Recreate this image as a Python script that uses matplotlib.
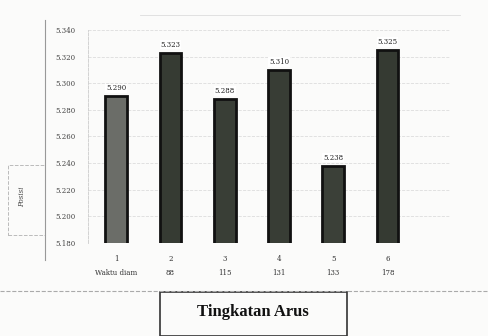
import matplotlib.pyplot as plt
from matplotlib.patches import Rectangle
from matplotlib.lines import Line2D

# values (estimated)
levels = [1, 2, 3, 4, 5, 6]
currents = ["Waktu diam", "88", "115", "131", "133", "178"]
positions = [5.290, 5.323, 5.288, 5.310, 5.238, 5.325]
y_ticks = [5.180, 5.200, 5.220, 5.240, 5.260, 5.280, 5.300, 5.320, 5.340]
bar_colors = ["#6b6d68", "#363b33", "#393e36", "#383d35", "#3b4038", "#353a32"]

fig = plt.figure(figsize=(4.89, 3.36), dpi=100)
fig.patch.set_facecolor("#fbfbfa")
ax = fig.add_axes([0.18, 0.277, 0.74, 0.634])
ax.set_facecolor("#fbfbfa")

ax.bar(levels, positions, width=0.40, color=bar_colors, edgecolor="#111111",
       linewidth=2.0, zorder=3)
for x, v in zip(levels, positions):
    ax.text(x, v + 0.003, f"{v:.3f}", ha="center", va="bottom",
            fontsize=5, color="#222222", family="DejaVu Serif",
            bbox=dict(facecolor="white", edgecolor="none", pad=0.5), zorder=4)

ax.set_ylim(5.180, 5.340)
ax.set_xlim(0.48, 7.15)
ax.set_yticks(y_ticks)
ax.set_yticklabels([f"{t:.3f}" for t in y_ticks], fontsize=5, color="#444444",
                   family="DejaVu Serif")
ax.set_xticks(levels)
ax.set_xticklabels([f"{l}\n{c}" for l, c in zip(levels, currents)], fontsize=5,
                   color="#333333", family="DejaVu Serif", linespacing=2.0)
ax.tick_params(length=0, pad=9)
ax.yaxis.grid(True, color="#dddddd", linestyle="--", linewidth=0.6, zorder=0)
for s in ["top", "right", "bottom"]:
    ax.spines[s].set_visible(False)
ax.spines["left"].set_color("#cccccc")
ax.spines["left"].set_linestyle("--")
ax.spines["left"].set_linewidth(0.6)

# frame lines around the chart as in the photo
fig.add_artist(Line2D([45 / 489, 45 / 489], [1 - 20 / 336, 1 - 260 / 336],
                      color="#999999", linewidth=0.8))
fig.add_artist(Line2D([0, 1], [1 - 291 / 336, 1 - 291 / 336],
                      color="#aaaaaa", linewidth=0.8, linestyle="--"))
fig.add_artist(Line2D([140 / 489, 460 / 489], [1 - 15 / 336, 1 - 15 / 336],
                      color="#dddddd", linewidth=0.6))

# y label box
fig.add_artist(Rectangle((8 / 489, 1 - 235 / 336), 37 / 489, 70 / 336,
                         fill=False, edgecolor="#bbbbbb", linewidth=0.7,
                         linestyle="--"))
fig.text(22 / 489, 1 - 197 / 336, "Posisi", rotation=90, ha="center", va="center",
         fontsize=5, style="italic", color="#444444", family="DejaVu Serif")

# x label box
fig.add_artist(Rectangle((160 / 489, 0), 187 / 489, 44 / 336,
                         fill=False, edgecolor="#333333", linewidth=1.2))
fig.text(253 / 489, 1 - 312 / 336, "Tingkatan Arus", ha="center", va="center",
         fontsize=12, fontweight="bold", color="#111111", family="Liberation Serif")

fig.savefig("out.png", dpi=100, facecolor=fig.get_facecolor())
